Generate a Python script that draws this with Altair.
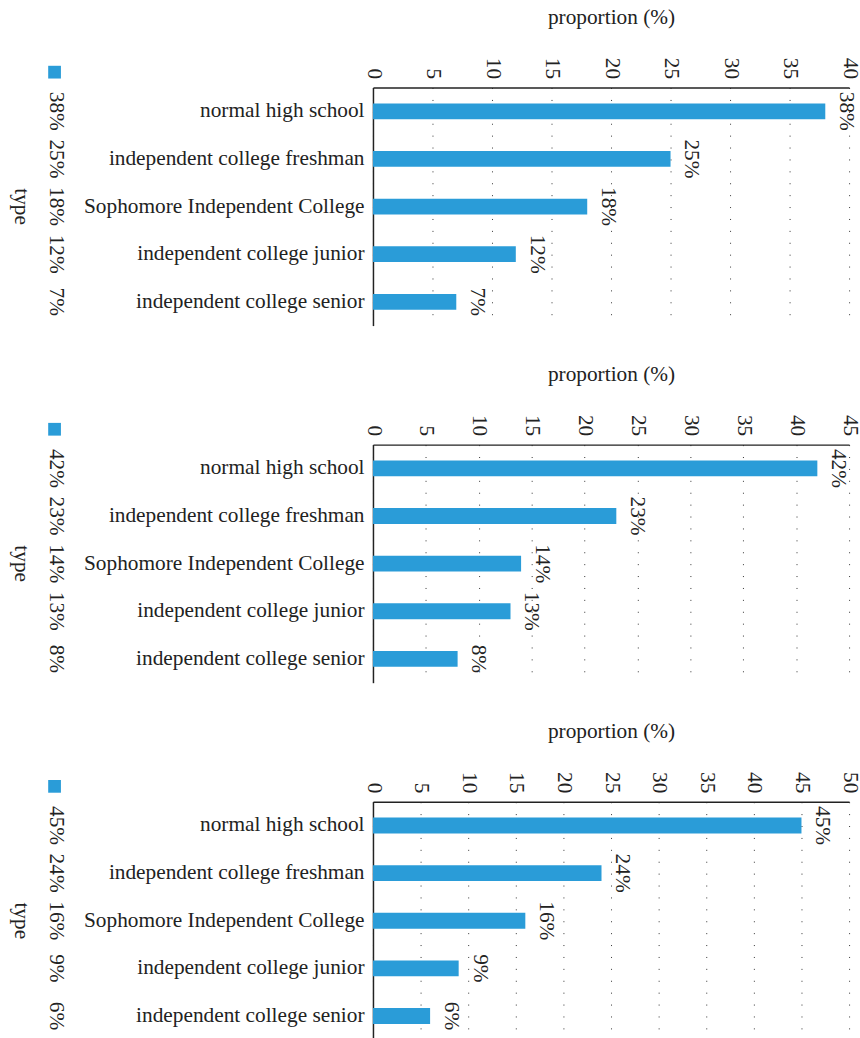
import altair as alt
import pandas as pd

categories = [
    "normal high school",
    "independent college freshman",
    "Sophomore Independent College",
    "independent college junior",
    "independent college senior",
]
values_1 = [38, 25, 18, 12, 7]
values_2 = [42, 23, 14, 13, 8]
values_3 = [45, 24, 16, 9, 6]
x_max = [40, 45, 50]
x_title = "proportion (%)"
legend_title = "type"

FONT = "Liberation Serif"
BLUE = "#2a9cd8"
TEXT = "#222222"
FS = 21.5


def panel(vals, xmax):
    df = pd.DataFrame({
        "type": categories,
        "proportion": vals,
        "label": [f"{v}%" for v in vals],
    })
    base = alt.Chart(df)
    y_enc = alt.Y(
        "type:N", sort=categories,
        scale=alt.Scale(paddingInner=0.667, paddingOuter=0.333),
        axis=alt.Axis(
            title=None, ticks=False, grid=False,
            domainColor=TEXT, domainWidth=1.5,
            labelFont=FONT, labelFontSize=FS, labelColor=TEXT,
            labelPadding=9, labelLimit=400,
        ),
    )
    x_enc = alt.X(
        "proportion:Q",
        scale=alt.Scale(domain=[0, xmax], nice=False),
        axis=alt.Axis(
            orient="top", title=x_title,
            values=list(range(0, xmax + 1, 5)),
            labelAngle=90, labelAlign="right", labelBaseline="middle",
            labelFlush=False, labelOverlap=False,
            labelFont=FONT, labelFontSize=FS, labelColor=TEXT, labelPadding=9,
            ticks=False, domainColor=TEXT, domainWidth=1.5,
            grid=True, gridDash=[1, 11], gridColor="#333333", gridWidth=1,
            titleFont=FONT, titleFontSize=FS, titleFontWeight="normal",
            titleColor=TEXT, titlePadding=29,
        ),
    )
    bars = base.mark_bar(color=BLUE).encode(x=x_enc, y=y_enc)
    labels = base.mark_text(
        angle=90, align="center", baseline="middle", dy=-21,
        font=FONT, fontSize=FS, color=TEXT,
    ).encode(x="proportion:Q", y=alt.Y("type:N", sort=categories), text="label:N")
    legend_vals = base.mark_text(
        angle=90, align="center", baseline="middle",
        font=FONT, fontSize=FS, color=TEXT,
    ).encode(x=alt.value(-320), y=alt.Y("type:N", sort=categories), text="label:N")
    title_df = pd.DataFrame({"t": [legend_title]})
    type_title = alt.Chart(title_df).mark_text(
        angle=90, align="center", baseline="middle",
        font=FONT, fontSize=FS, color=TEXT,
    ).encode(x=alt.value(-355), y=alt.value(120), text="t:N")
    square = alt.Chart(title_df).mark_square(
        size=165, color=BLUE, opacity=1, filled=True
    ).encode(x=alt.value(-321), y=alt.value(-15.5))
    return alt.layer(bars, labels, legend_vals, type_title, square).properties(
        width=480, height=240
    )


chart = alt.vconcat(
    panel(values_1, x_max[0]),
    panel(values_2, x_max[1]),
    panel(values_3, x_max[2]),
    spacing=38,
).configure_view(stroke=None).properties(
    padding={"left": 10, "top": 2, "right": 0, "bottom": 0}
)

chart.save("out.html", embed_options={"renderer": "svg", "actions": False})
